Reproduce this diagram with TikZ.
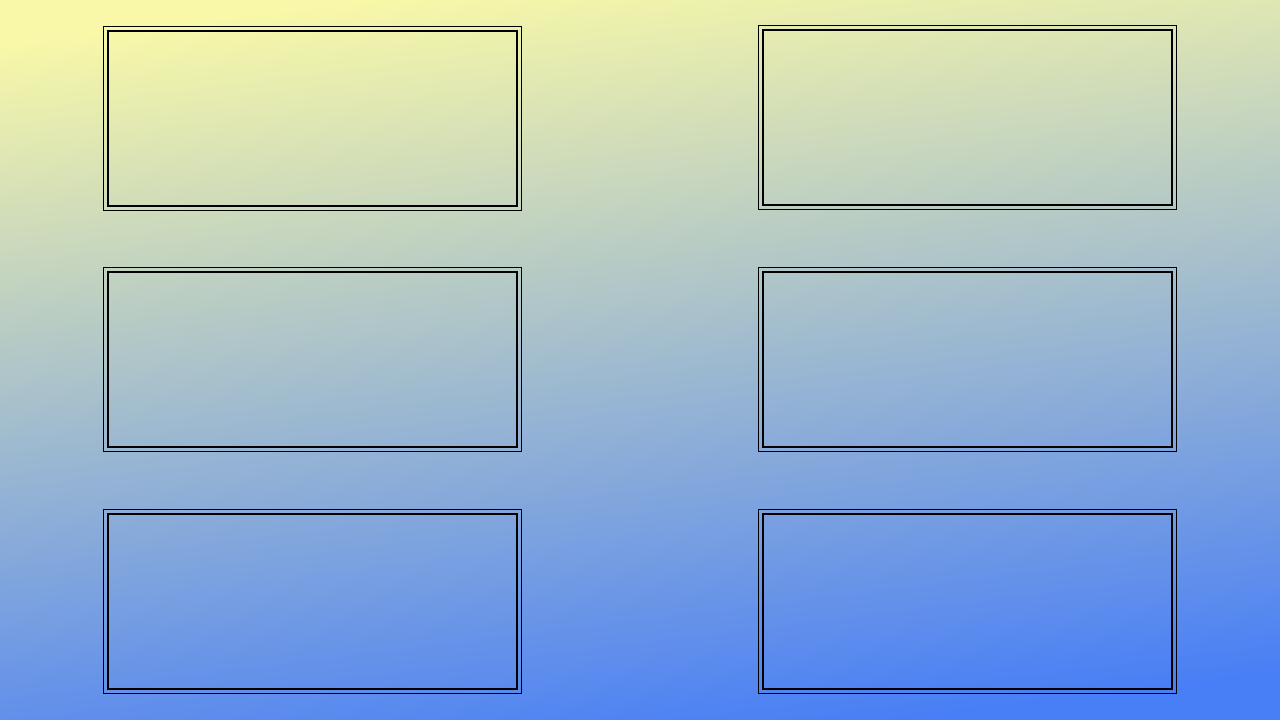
\documentclass[tikz,border=0pt]{standalone}
\usepackage{tikz}

\definecolor{bgtop}{RGB}{248,248,168}
\definecolor{bgbottom}{RGB}{72,126,246}

\tikzset{
  panel/.style={draw=black, line width=0.8pt, minimum width=418pt, minimum height=184pt, inner sep=0pt},
  panelinner/.style={draw=black, line width=2pt}
}

\begin{document}
\begin{tikzpicture}[x=1pt, y=1pt]
    \useasboundingbox (0,0) rectangle (1280,720);
    \shade[top color=bgtop, bottom color=bgbottom, shading angle=7] (0,0) rectangle (1280,720);
    % six panels, two columns
    \node[panel] (pA) at (312.5,601.5) {};
    \node[panel] (pB) at (967.5,602.5) {};
    \node[panel] (pC) at (312.5,360.5) {};
    \node[panel] (pD) at (967.5,360.5) {};
    \node[panel] (pE) at (312.5,118.5) {};
    \node[panel] (pF) at (967.5,118.5) {};
    \foreach \p in {pA,pB,pC,pD,pE,pF}
        \draw[panelinner] ([shift={(4.5,-4.5)}]\p.north west) rectangle ([shift={(-4.5,4.5)}]\p.south east);
\end{tikzpicture}
\end{document}
